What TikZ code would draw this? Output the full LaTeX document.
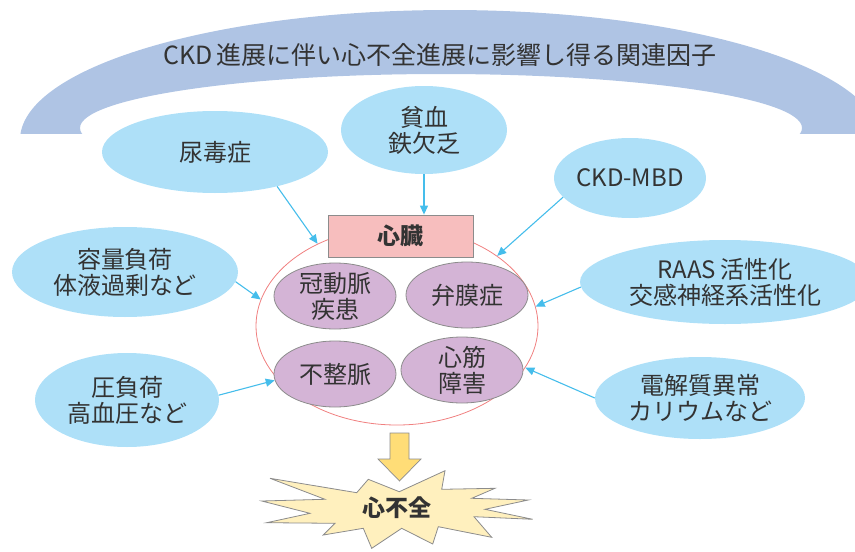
\documentclass[tikz,border=0pt]{standalone}
\usepackage{fontspec}
\setmainfont{Noto Sans CJK JP}
\usetikzlibrary{shapes.geometric,arrows.meta}
\definecolor{bandc}{HTML}{AFC4E4}
\definecolor{bluec}{HTML}{AEE0F8}
\definecolor{arrowc}{HTML}{45BDEB}
\definecolor{rectc}{HTML}{F7BEBE}
\definecolor{edgec}{HTML}{8C8C8C}
\definecolor{redc}{HTML}{F08080}
\definecolor{purpc}{HTML}{D4B4D6}
\definecolor{yarrc}{HTML}{FFDD77}
\definecolor{starc}{HTML}{FFF0BE}
\definecolor{txtc}{HTML}{333333}
\begin{document}
\begin{tikzpicture}[x=1pt,y=-1pt,
  every node/.style={text=txtc, font=\fontsize{24}{26}\selectfont, align=center},
  blueell/.style={ellipse, fill=bluec, inner sep=-6pt},
  purpell/.style={ellipse, fill=purpc, draw=edgec, line width=0.8pt, inner sep=-8pt, minimum width=122pt, minimum height=66pt},
  conn/.style={draw=arrowc, line width=1.1pt, -{Triangle[length=9pt,width=8pt]}},
  thickarrow/.style={fill=yarrc, draw=edgec, line width=0.7pt},
  burst/.style={fill=starc, draw=edgec, line width=0.8pt}
]
\useasboundingbox (0,0) rectangle (855,552);

% top band
\begin{scope}
\clip (0,0) rectangle (855,133);
\fill[bandc, even odd rule] (450,140) ellipse [x radius=430pt, y radius=130pt]
  (441,128) ellipse [x radius=361pt, y radius=54pt];
\end{scope}
\node[font=\fontsize{25}{27}\selectfont] (title) at (440,55) {CKD\,進展に伴い心不全進展に影響し得る関連因子};

% blue factor ellipses
\node[blueell, minimum width=226pt, minimum height=82pt] (uremia) at (215,152) {尿毒症};
\node[blueell, minimum width=166pt, minimum height=88pt] (anemia) at (424,130) {貧血\\鉄欠乏};
\node[blueell, minimum width=152pt, minimum height=80pt] (mbd) at (630,178) {CKD-MBD};
\node[blueell, minimum width=226pt, minimum height=90pt] (volume) at (125,272) {容量負荷\\体液過剰など};
\node[blueell, minimum width=290pt, minimum height=84pt] (raas) at (725,282) {RAAS\,活性化\\交感神経系活性化};
\node[blueell, minimum width=184pt, minimum height=94pt] (pressure) at (127,400) {圧負荷\\高血圧など};
\node[blueell, minimum width=210pt, minimum height=82pt] (elec) at (700,398) {電解質異常\\カリウムなど};

% heart area
\node[ellipse, draw=redc, line width=0.8pt, minimum width=282pt, minimum height=198pt, inner sep=0pt] (heart) at (397,326) {};
\node[fill=rectc, draw=edgec, line width=0.8pt, minimum width=145pt, minimum height=42pt, inner sep=0pt, font=\fontsize{23}{26}\selectfont\bfseries] (heartrect) at (400.5,236) {心臓};
\node[purpell] (cad) at (335,296) {冠動脈\\疾患};
\node[purpell] (valve) at (467,295) {弁膜症};
\node[purpell] (arrhy) at (335,374) {不整脈};
\node[purpell] (myo) at (462,370) {心筋\\障害};

% connectors
\draw[conn] (uremia.-29) -- (heart.134);
\draw[conn] (anemia.south) -- (anemia.south |- heartrect.north);
\draw[conn] (mbd.196) -- (heart.35);
\draw[conn] (volume.-5) -- (heart.169);
\draw[conn] (raas.182) -- (heart.8);
\draw[conn] (pressure.3) -- (arrhy.186);
\draw[conn] (elec.180) -- (heart.342);

% thick arrow and burst
\draw[thickarrow] (390,433) -- (409,433) -- (409,459) -- (421,459) -- (399.5,481) -- (378,459) -- (390,459) -- cycle;
\draw[burst] (368.3,479.3) -- (399.3,491.7) -- (445,470.7) -- (441.7,489.3) -- (495,488.3) -- (471.7,498.3)
  -- (528.3,500) -- (485,509.3) -- (532.7,519.3) -- (474,516.7) -- (491.7,537.3) -- (438.3,526.7)
  -- (432.7,544) -- (401.7,528.3) -- (371.7,548.3) -- (363.3,528.3) -- (323.3,535) -- (335,523.3)
  -- (266.7,522.7) -- (310,513.3) -- (261.7,501) -- (325,499.3) -- (270,478.3) -- (356.7,492.7) -- cycle;
\node[font=\fontsize{23}{26}\selectfont\bfseries] (hf) at (397,508) {心不全};
\end{tikzpicture}
\end{document}
